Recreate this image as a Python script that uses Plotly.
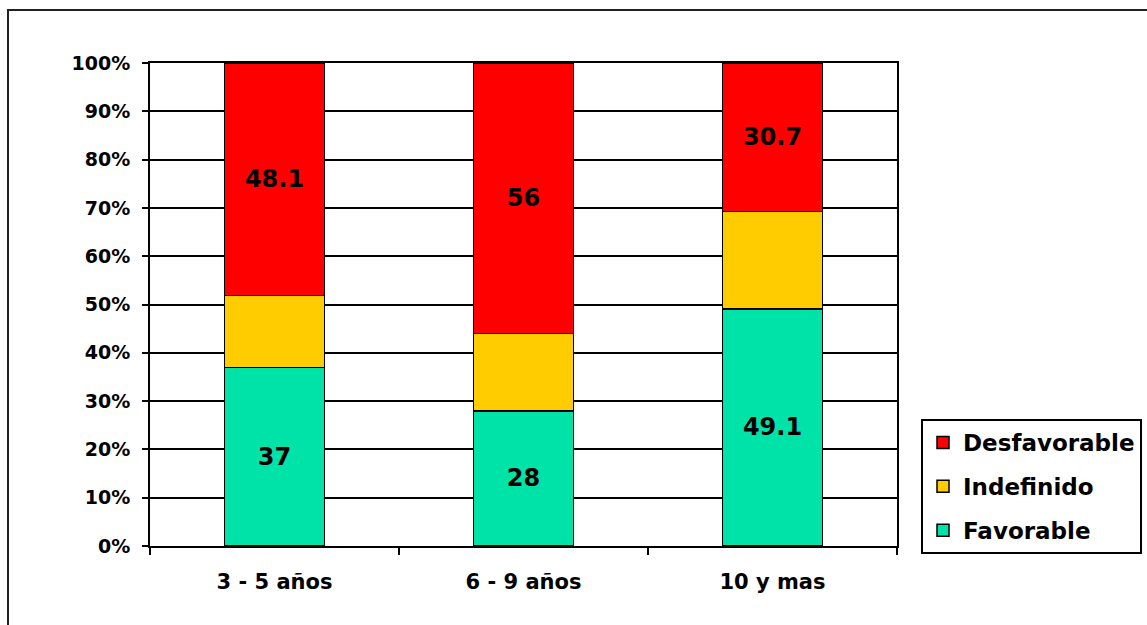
import plotly.graph_objects as go

# Age groups and the share (%) of each rating within them
categories = ["3 - 5 años", "6 - 9 años", "10 y mas"]
favorable = [37, 28, 49.1]
indefinido = [14.9, 16, 20.2]
desfavorable = [48.1, 56, 30.7]

# name, values, colour, show value labels, legend position
series = [
    ("Favorable", favorable, "#00E3A8", True, 3),
    ("Indefinido", indefinido, "#FFCC00", False, 2),
    ("Desfavorable", desfavorable, "#FF0000", True, 1),
]

FONT = "DejaVu Sans"

fig = go.Figure()
for name, vals, color, labelled, rank in series:
    fig.add_trace(go.Bar(
        name=name,
        legendgroup=name,
        legendrank=rank,
        x=categories,
        y=vals,
        marker=dict(color=color, line=dict(color="black", width=1.5)),
        text=[f"{v:g}" for v in vals] if labelled else None,
        textposition="inside" if labelled else "none",
        insidetextanchor="middle",
        constraintext="none",
        textangle=0,
        textfont=dict(family=FONT, size=24, color="black", weight="bold"),
        hoverinfo="skip",
    ))

W, H = 1147, 625
L, R, T, B = 150, 250, 63, 79
pw, ph = W - L - R, H - T - B


def px_x(px):
    return (px - L) / pw


def px_y(py):
    return (H - B - py) / ph


fig.update_layout(
    width=W,
    height=H,
    margin=dict(l=L, r=R, t=T, b=B, autoexpand=False),
    barmode="stack",
    bargap=0.6,
    paper_bgcolor="white",
    plot_bgcolor="white",
    font=dict(family=FONT, color="black", weight="bold"),
    legend=dict(
        traceorder="grouped",
        tracegroupgap=11,
        x=px_x(921), y=px_y(419),
        xanchor="left", yanchor="top",
        bordercolor="black", borderwidth=2,
        bgcolor="white",
        font=dict(family=FONT, size=23, color="black", weight="bold"),
        itemclick=False,
    ),
    xaxis=dict(
        showline=True, linecolor="black", linewidth=2,
        mirror=True,
        ticks="outside", tickson="boundaries", ticklen=7,
        tickcolor="black", tickwidth=2,
        ticklabelstandoff=16,
        tickfont=dict(family=FONT, size=21, color="black", weight="bold"),
        showgrid=False,
    ),
    yaxis=dict(
        range=[0, 100],
        dtick=10,
        ticksuffix="%",
        showline=True, linecolor="black", linewidth=2,
        mirror=True,
        ticks="outside", ticklen=6, tickcolor="black", tickwidth=2,
        ticklabelstandoff=8,
        tickfont=dict(family=FONT, size=19, color="black", weight="bold"),
        showgrid=True, gridcolor="black", gridwidth=1.5,
        zeroline=False,
    ),
    shapes=[dict(
        type="rect", xref="paper", yref="paper",
        x0=px_x(8), x1=px_x(1170), y0=px_y(660), y1=px_y(10),
        line=dict(color="#222", width=2), layer="below",
    )],
)

fig.write_html("out.html")
